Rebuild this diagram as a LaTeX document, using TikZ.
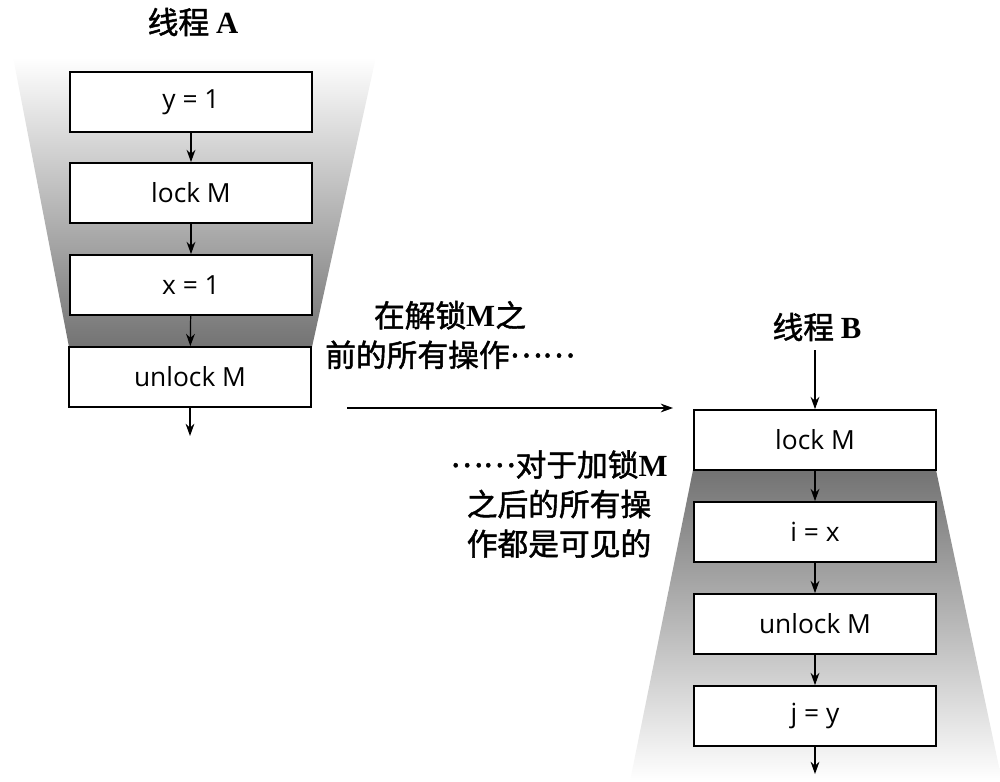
\documentclass[tikz,border=0pt]{standalone}
\usepackage{fontspec}
\setmainfont{Open Sans}
\newfontfamily\cjk{Noto Sans CJK SC}[FakeBold=1.5]
\newfontfamily\latinb{Liberation Serif}
\usetikzlibrary{arrows.meta}

\tikzset{
  op/.style={draw, line width=1pt, fill=white, minimum width=4.84cm,
    minimum height=1.2cm, font=\fontsize{15}{18}\selectfont},
  flow/.style={-{Stealth[length=7pt,width=5pt]}, line width=0.7pt},
  note/.style={font=\cjk\fontsize{17.5}{22.5}\selectfont, align=center},
}
\newcommand{\bm}[1]{{\latinb\bfseries #1}}
\newcommand{\middots}{\raisebox{0.3em}{……}}

\begin{document}
\begin{tikzpicture}[x=0.02cm,y=-0.02cm]
\useasboundingbox (0,0) rectangle (1000,781);

% thread A
\shade[top color=white, bottom color=black!55]
  (13,57) -- (376,57) -- (312,347) -- (69,347) -- cycle;
\node[note] (ta) at (193,22) {线程 \bm{A}};
\node[op] (a1) at (191,102) {y = 1};
\node[op] (a2) at (191,193) {lock M};
\node[op] (a3) at (191,285) {x = 1};
\node[op] (a4) at (190,377) {unlock M};
\coordinate (aend) at (190,436);

\draw[flow] (a1) -- (a2);
\draw[flow] (a2) -- (a3);
\draw[flow] (a3) -- (a4);
\draw[flow] (a4) -- (aend);

% thread B
\shade[top color=black!55, bottom color=white]
  (693,470) -- (936,470) -- (1002,781) -- (630,781) -- cycle;
\node[note] (tb) at (817,327) {线程 \bm{B}};
\node[op] (b1) at (815,440) {lock M};
\node[op] (b2) at (815,532) {i = x};
\node[op] (b3) at (815,624) {unlock M};
\node[op] (b4) at (815,716) {j = y};
\coordinate (bstart) at (815,350);
\coordinate (bend) at (815,774);

\draw[flow] (bstart) -- (b1);
\draw[flow] (b1) -- (b2);
\draw[flow] (b2) -- (b3);
\draw[flow] (b3) -- (b4);
\draw[flow] (b4) -- (bend);

% happens-before
\coordinate (hs) at (347,408);
\coordinate (he) at (673,408);
\draw[flow] (hs) -- (he);
\node[note] (n1) at (450,335) {在解锁\bm{M}之\\前的所有操作\middots};
\node[note] (n2) at (559,504) {\middots 对于加锁\bm{M}\\之后的所有操\\作都是可见的};
\end{tikzpicture}
\end{document}
